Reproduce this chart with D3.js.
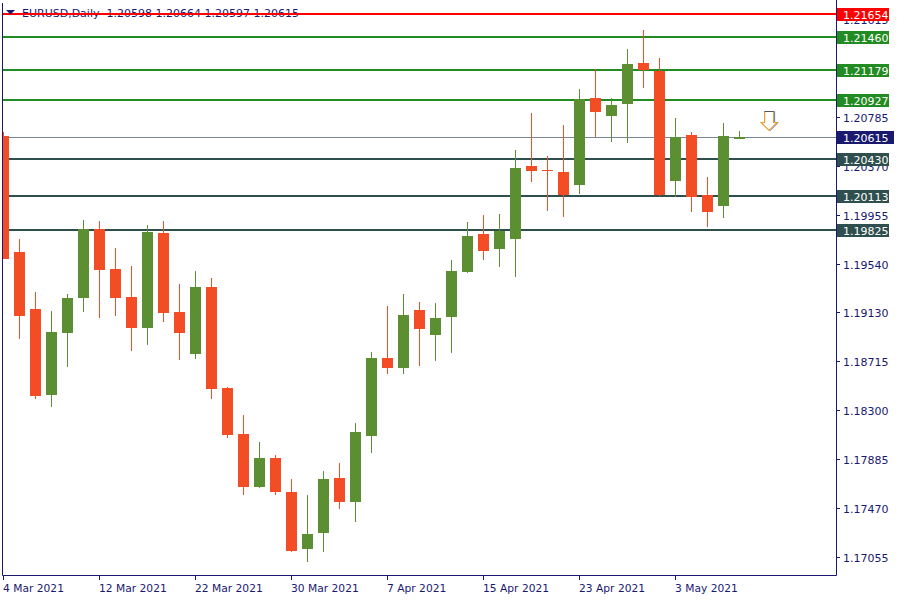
<!DOCTYPE html>
<html><head><meta charset="utf-8">
<script src="https://cdn.jsdelivr.net/npm/d3@7"></script>
<style>html,body{margin:0;padding:0;background:#fff;} svg{display:block;font-family:"DejaVu Sans",Verdana,sans-serif;}</style>
</head><body><svg id="c" width="900" height="600"></svg>
<script>
const symbol = "EURUSD,Daily";
const open  = [1.20621,1.19638,1.19155,1.18426,1.18951,1.19248,1.19833,1.19494,1.19257,1.18994,1.19799,1.19129,1.18773,1.19341,1.18485,1.18095,1.17646,1.17892,1.17603,1.17120,1.17256,1.17722,1.17519,1.18078,1.18739,1.18655,1.19146,1.18934,1.19087,1.19468,1.19791,1.19663,1.19748,1.20367,1.20333,1.20316,1.20206,1.20943,1.20791,1.20893,1.21240,1.21172,1.20240,1.20630,1.20121,1.20028,1.20598];
const high  = [1.20655,1.19748,1.19299,1.19138,1.19282,1.19909,1.19901,1.19672,1.19519,1.19867,1.19901,1.19367,1.19477,1.19418,1.18494,1.18256,1.18027,1.17917,1.17714,1.17578,1.17782,1.17849,1.18188,1.18790,1.19180,1.19282,1.19214,1.19206,1.19570,1.19892,1.19952,1.19960,1.20503,1.20816,1.20452,1.20715,1.21020,1.21189,1.20943,1.21359,1.21520,1.21283,1.20774,1.20655,1.20274,1.20732,1.20664];
const low   = [1.19575,1.18900,1.18392,1.18324,1.18663,1.19129,1.19078,1.19095,1.18799,1.18850,1.19045,1.18722,1.18731,1.18392,1.18061,1.17578,1.17640,1.17578,1.17095,1.17010,1.17095,1.17459,1.17349,1.17934,1.18604,1.18604,1.18672,1.18714,1.18782,1.19460,1.19570,1.19511,1.19426,1.20231,1.19986,1.19935,1.20130,1.20613,1.20570,1.20562,1.21028,1.20115,1.20104,1.19977,1.19850,1.19926,1.20597];
const close = [1.19581,1.19098,1.18417,1.18960,1.19248,1.19833,1.19485,1.19248,1.18994,1.19808,1.19121,1.18951,1.19341,1.18477,1.18087,1.17646,1.17892,1.17603,1.17103,1.17247,1.17714,1.17519,1.18112,1.18739,1.18655,1.19104,1.18985,1.19078,1.19477,1.19774,1.19646,1.19816,1.20350,1.20325,1.20325,1.20121,1.20935,1.20825,1.20884,1.21232,1.21181,1.20121,1.20613,1.20104,1.19977,1.20621,1.20615];
const dateLabels = ["4 Mar 2021","12 Mar 2021","22 Mar 2021","30 Mar 2021","7 Apr 2021","15 Apr 2021","23 Apr 2021","3 May 2021"];
const dateLabelIndex = [0,6,12,18,24,30,36,42];
const priceTicks = [1.17055,1.17470,1.17885,1.18300,1.18715,1.19130,1.19540,1.19955,1.20370,1.20785,1.21200,1.21615];
const levelValues = [1.21654,1.21460,1.21179,1.20927,1.20430,1.20113,1.19825];
const levelKinds  = ["red","green","green","green","slate","slate","slate"];
const arrowIndex = 47.85, arrowPrice = 1.20833;

const colors = {up:"#5b8f31", down:"#f34d25", red:"#ff0000", green:"#228b22", slate:"#2f4f4f", current:"#778899", axis:"#191970"};
const N = open.length;
const left = 3, right = 836, bottom = 576;

const svg = d3.select("#c");
const x = d3.scaleLinear().domain([0, N-1]).range([3.5, 3.5 + (N-1)*16]);
const y = d3.scaleLinear().domain([1.17055, 1.20785]).range([556.7, 116.7]);

svg.append("defs").append("clipPath").attr("id","plot")
  .append("rect").attr("x", left).attr("y", 0).attr("width", right-left).attr("height", bottom);

// header
svg.append("text").attr("x", 22).attr("y", 17).attr("font-size", 11).attr("fill", colors.axis)
  .attr("xml:space","preserve")
  .text(symbol + "  " + [open[N-1],high[N-1],low[N-1],close[N-1]].map(v=>v.toFixed(5)).join(" "));

const plot = svg.append("g").attr("clip-path","url(#plot)");

// level lines
levelValues.forEach((v,i)=>{
  const yy = Math.round(y(v));
  plot.append("line").attr("x1", left).attr("x2", right).attr("y1", yy).attr("y2", yy)
    .attr("stroke", colors[levelKinds[i]]).attr("stroke-width", 2);
});
// current price line
const cur = close[N-1];
plot.append("line").attr("x1", left).attr("x2", right)
  .attr("y1", Math.round(y(cur))+0.5).attr("y2", Math.round(y(cur))+0.5)
  .attr("stroke", colors.current).attr("stroke-width", 1);

// candles
const idx = d3.range(N);
const cg = plot.append("g");
cg.selectAll("line.wick").data(idx).join("line").attr("class","wick")
  .attr("x1", i=>x(i)).attr("x2", i=>x(i))
  .attr("y1", i=>Math.round(y(high[i]))).attr("y2", i=>Math.round(y(low[i])))
  .attr("stroke", i=> close[i] >= open[i] ? colors.up : colors.down).attr("stroke-width", 1);
cg.selectAll("rect.body").data(idx).join("rect").attr("class","body")
  .attr("x", i=>x(i)-5.5).attr("width", 11)
  .attr("y", i=>Math.round(y(Math.max(open[i],close[i]))))
  .attr("height", i=>Math.max(1, Math.round(y(Math.min(open[i],close[i]))) - Math.round(y(Math.max(open[i],close[i])))))
  .attr("fill", i=> close[i] >= open[i] ? colors.up : colors.down);

// arrow annotation
const ax = x(arrowIndex), ay = Math.round(y(arrowPrice)) + 0.5;
const arrowPath = `M${ax-4.5},${ay} H${ax+4.5} V${ay+11} H${ax+8} L${ax},${ay+19} L${ax-8},${ay+11} H${ax-4.5} Z`;
svg.append("path").attr("d", arrowPath).attr("transform","translate(1,0)").attr("fill","none").attr("stroke","#3a6fd8").attr("stroke-width",1);
svg.append("path").attr("d", arrowPath).attr("fill","#fff").attr("stroke","#f0a030").attr("stroke-width",1.2);
svg.append("line").attr("x1", ax-4.5).attr("x2", ax+4.5).attr("y1", ay).attr("y2", ay).attr("stroke","#555").attr("stroke-width",1);

// frame
svg.append("path").attr("d", `M2.5,3 V575.5 H836.5 V0`).attr("fill","none").attr("stroke", colors.axis).attr("stroke-width",1);

// triangle marker
svg.append("path").attr("d","M6,10 H15 L10.5,14.5 Z").attr("fill", colors.axis);

// y axis ticks and labels
const ya = svg.append("g");
priceTicks.forEach(v=>{
  const yy = Math.round(y(v));
  ya.append("line").attr("x1", 836).attr("x2", 840).attr("y1", yy+0.5).attr("y2", yy+0.5).attr("stroke", colors.axis);
  ya.append("text").attr("x", 843).attr("y", yy+4.5).attr("font-size", 11).attr("fill", colors.axis).text(v.toFixed(5));
});

// level boxes
levelValues.forEach((v,i)=>{
  const yy = Math.round(y(v));
  ya.append("rect").attr("x", 837).attr("y", yy-6).attr("width", 52).attr("height", 13).attr("fill", colors[levelKinds[i]]);
  ya.append("text").attr("x", 843).attr("y", yy+4.5).attr("font-size", 11).attr("fill", "#fff").text(v.toFixed(5));
});
{
  const yy = Math.round(y(cur));
  ya.append("rect").attr("x", 837).attr("y", yy-6).attr("width", 57).attr("height", 13).attr("fill", colors.axis);
  ya.append("text").attr("x", 843).attr("y", yy+4.5).attr("font-size", 11).attr("fill", "#fff").text(cur.toFixed(5));
}

// x axis
const xa = svg.append("g");
dateLabels.forEach((t,k)=>{
  const xx = Math.round(x(dateLabelIndex[k])-0.5)+0.5;
  xa.append("line").attr("x1", xx).attr("x2", xx).attr("y1", 576).attr("y2", 580).attr("stroke", colors.axis);
  xa.append("text").attr("x", xx-0.5).attr("y", 592).attr("font-size", 10.7).attr("fill", colors.axis).text(t);
});
</script></body></html>
